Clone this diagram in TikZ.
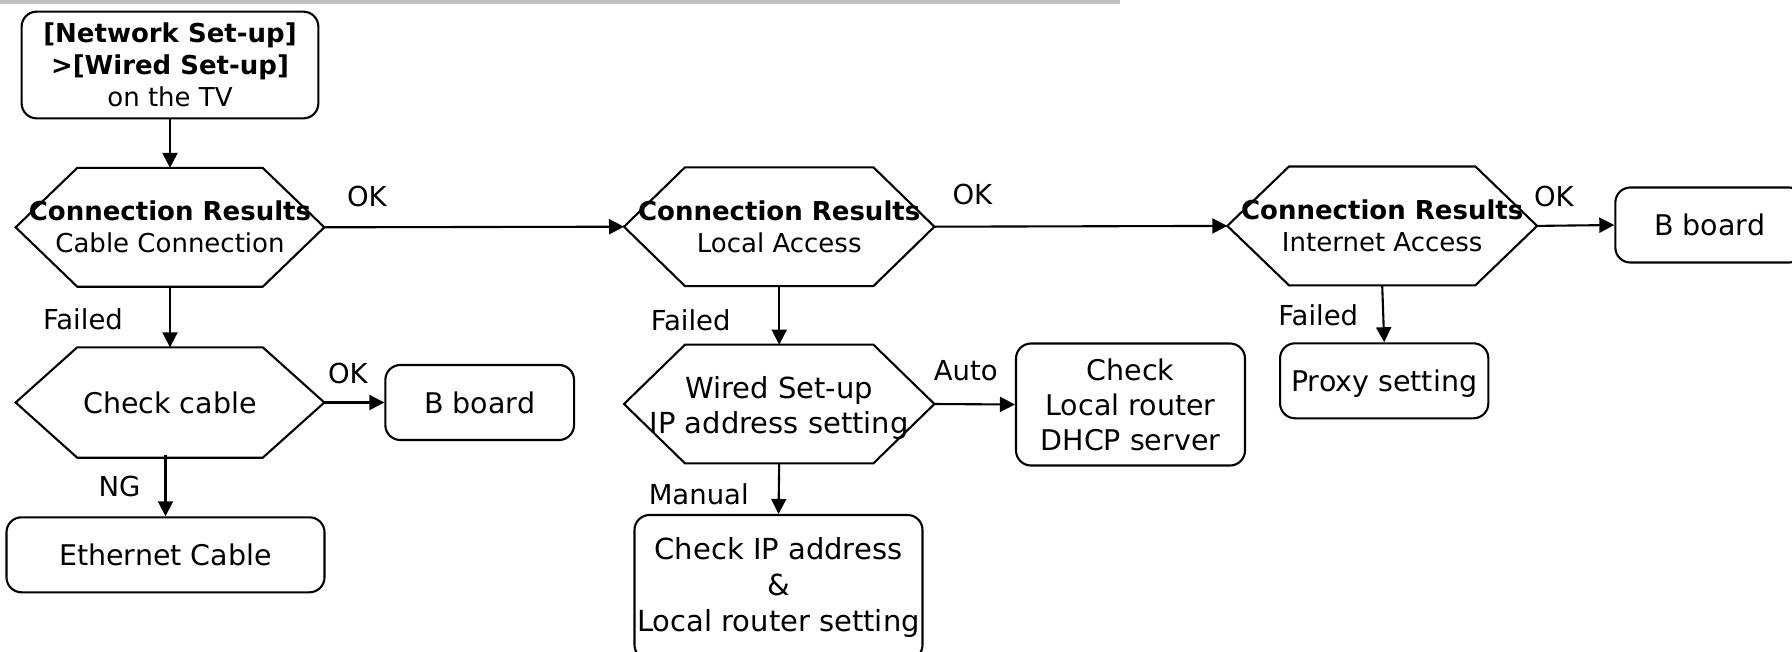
\documentclass[tikz,border=0pt]{standalone}
\usepackage{fontspec}
\setmainfont{DejaVu Sans}
\usetikzlibrary{arrows.meta}
\definecolor{barg}{HTML}{C0C0C0}
\newcommand{\hexdraw}[2]{%
  \draw (#1.west) -- ([xshift=#2pt]#1.north west) -- ([xshift=-#2pt]#1.north east)
    -- (#1.east) -- ([xshift=-#2pt]#1.south east) -- ([xshift=#2pt]#1.south west) -- cycle;}
\begin{document}
\begin{tikzpicture}[x=1pt,y=-1pt,
  line width=2.1pt,
  hexbox/.style={rectangle, draw=none, inner sep=0pt, align=center},
  rbox/.style={rectangle, draw, rounded corners=15pt, inner sep=0pt, align=center},
  crfont/.style={font=\fontsize{26}{32}\selectfont},
  bigfont/.style={font=\fontsize{28.5}{35}\selectfont},
  lbl/.style={anchor=base west, inner sep=0pt, font=\fontsize{27.5}{32}\selectfont},
  arr/.style={-{Triangle[length=15pt,width=15pt]}}
]
\useasboundingbox (0,0) rectangle (1792,651);
\clip (0,0) rectangle (1792,651);
\fill[barg] (0,0) rectangle (1120,4);

% nodes
\node[rbox, crfont, minimum width=296.7pt, minimum height=106.7pt] (top) at (170,65)
  {\textbf{[Network Set-up]}\\\textbf{>[Wired Set-up]}\\on the TV};
\node[hexbox, crfont, minimum width=306.6pt, minimum height=116.7pt] (h1) at (170,227.3)
  {\textbf{Connection Results}\\Cable Connection};
\node[hexbox, crfont, minimum width=308.3pt, minimum height=116.7pt] (h2) at (779.2,226.7)
  {\textbf{Connection Results}\\Local Access};
\node[hexbox, crfont, minimum width=307.7pt, minimum height=116.7pt] (h5) at (1382.2,225.9)
  {\textbf{Connection Results}\\Internet Access};
\node[hexbox, bigfont, minimum width=306.6pt, minimum height=108.3pt] (hc) at (170,402.5)
  {Check cable};
\node[hexbox, font=\fontsize{29}{35}\selectfont, minimum width=308.3pt, minimum height=116.6pt] (hw) at (779.2,404)
  {\rule{0pt}{31pt}Wired Set-up\\IP address setting};
\node[rbox, bigfont, minimum width=188.7pt, minimum height=75pt] (bb1) at (479.7,402.5) {B board};
\node[rbox, bigfont, minimum width=318pt, minimum height=75pt] (eth) at (165.5,554.8) {Ethernet Cable};
\node[rbox, bigfont, minimum width=229pt, minimum height=122pt] (dhcp) at (1130.5,404.5)
  {Check\\Local router\\DHCP server};
\node[rbox, font=\fontsize{29}{36}\selectfont, minimum width=288pt, minimum height=145pt] (ip) at (778.5,587.5)
  {Check IP address\\\&\\Local router setting};
\node[rbox, bigfont, text depth=0pt, minimum width=208.3pt, minimum height=75pt] (proxy) at (1384.2,380.8) {Proxy setting};
\node[rbox, bigfont, minimum width=188.7pt, minimum height=75pt] (bb2) at (1709.7,225) {B board};

% hexagon outlines
\hexdraw{h1}{61.6}
\hexdraw{h2}{61}
\hexdraw{h5}{61.7}
\hexdraw{hc}{61.6}
\hexdraw{hw}{61}

% labels
\node[lbl] (ok1) at (346,206.7) {OK};
\node[lbl] (ok2) at (951.5,204) {OK};
\node[lbl] (ok3) at (1533,206.7) {OK};
\node[lbl] (ok4) at (327,383.3) {OK};
\node[lbl] (f1) at (42,329.3) {Failed};
\node[lbl] (f2) at (649.7,330) {Failed};
\node[lbl] (f3) at (1277.3,325.7) {Failed};
\node[lbl] (ng) at (97.6,496.7) {NG};
\node[lbl] (auto) at (932.7,380) {Auto};
\node[lbl] (man) at (647.7,504) {Manual};

% connectors
\draw[arr] (top.south) -- (h1.north);
\draw[arr] (h1.east) -- (h2.west);
\draw[arr] (h2.east) -- (h5.west);
\draw[arr] (h5.east) -- (bb2.west);
\draw[arr] (h1.south) -- (hc.north);
\draw[arr] (hc.east) -- (bb1.west);
\draw[arr] ([yshift=3pt]hc.south -| eth.north) -- (eth.north);
\draw[arr] (h2.south) -- (hw.north);
\draw[arr] (hw.east) -- (dhcp.west);
\draw[arr] (hw.south) -- (ip.north);
\draw[arr] (h5.south) -- (proxy.north);
\end{tikzpicture}
\end{document}
